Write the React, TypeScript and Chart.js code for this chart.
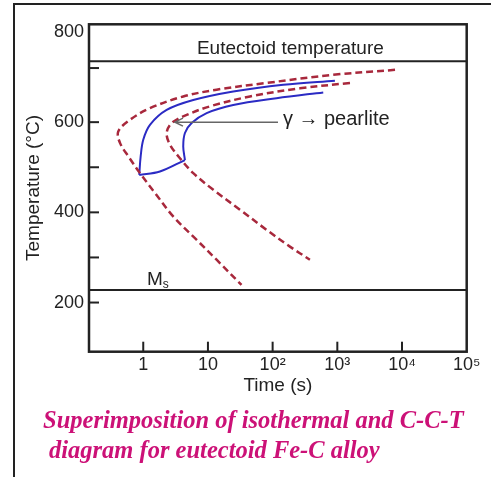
import React, { useEffect, useRef } from "react";
import { Chart, registerables } from "chart.js";

Chart.register(...registerables);

// ---- axis ticks ----
const timeTickValues = [1, 10, 100, 1000, 10000, 100000];
const timeTickLabels = ["1", "10", "10²", "10³", "10⁴", "10⁵"];
const tempTickValues = [200, 400, 600, 800];
const tempInnerTicks = [200, 300, 400, 500, 600, 720];
const timeInnerTicks = [1, 10, 100, 1000, 10000];

// ---- reference lines ----
const eutectoidTemp = 735;
const msTemp = 228;

// ---- isothermal (TTT) curves, red dashed ----
const tttStartTime = [7800, 865, 81, 13.6, 4.15, 1.27, 0.62, 0.41, 0.44, 0.59, 0.89, 1.52, 2.9, 6.7, 13.6, 33];
const tttStartTemp = [716, 705, 687, 672, 657, 631, 605, 579, 553, 524, 487, 443, 391, 339, 295, 239];
const tttFinishTime = [1570, 264, 44.6, 10.7, 4.69, 2.75, 2.3, 2.59, 3.69, 5.93, 12.1, 31.2, 81, 185, 377];
const tttFinishTemp = [687, 675, 657, 635, 616, 598, 576, 550, 520, 487, 450, 406, 361, 324, 295];

// ---- continuous cooling (CCT) curves, blue ----
const cctStartTime = [918, 146, 24.6, 5.93, 2.3, 1.27, 1.0, 0.912, 0.867];
const cctStartTemp = [692, 683, 668, 649, 627, 594, 561, 524, 483];
const cctStopTime = [0.867, 1.81, 4.41];
const cctStopTemp = [483, 490.5, 516];
const cctFinishTime = [4.41, 4.15, 4.41, 5.6, 9.55, 24.6, 115, 606];
const cctFinishTemp = [516, 546, 576, 598, 620, 638, 653, 666];

// ---- annotations ----
const eutectoidLabel = "Eutectoid temperature";
const eutectoidLabelAt = { time: 188, temp: 751 };
const msLabelAt = { time: 1.14, temp: 239 };
const arrowLabel = "γ → pearlite";
const arrowLabelAt = { time: 144, temp: 593 };
const arrowFrom = { time: 121, temp: 600 };
const arrowTo = { time: 3.09, temp: 600 };
const captionLines = [
  "Superimposition of isothermal and C-C-T",
  "diagram for eutectoid Fe-C alloy",
];

const RED = "#a8283c";
const BLUE = "#2b2bc4";
const INK = "#222222";
const CAPTION = "#cc1177";
const SANS = '"Liberation Sans", Arial, Helvetica, sans-serif';
const SERIF = '"Liberation Serif", "Times New Roman", serif';

const toPoints = (xs: number[], ys: number[]) => xs.map((x, i) => ({ x, y: ys[i] }));

const decorPlugin = {
  id: "decor",
  beforeDraw(chart: any) {
    const { ctx, width, height } = chart;
    ctx.save();
    ctx.fillStyle = "#ffffff";
    ctx.fillRect(0, 0, width, height);
    ctx.strokeStyle = INK;
    ctx.lineWidth = 2;
    ctx.beginPath();
    ctx.moveTo(14, height);
    ctx.lineTo(14, 4);
    ctx.lineTo(width, 4);
    ctx.stroke();
    ctx.restore();
  },
  beforeDatasetsDraw(chart: any) {
    const { ctx, chartArea, scales } = chart;
    const y = scales.y;
    ctx.save();
    ctx.strokeStyle = INK;
    ctx.lineWidth = 2;
    [eutectoidTemp, msTemp].forEach((t) => {
      const py = y.getPixelForValue(t);
      ctx.beginPath();
      ctx.moveTo(chartArea.left, py);
      ctx.lineTo(chartArea.right, py);
      ctx.stroke();
    });
    ctx.restore();
  },
  afterDraw(chart: any) {
    const { ctx, chartArea, scales } = chart;
    const x = scales.x;
    const y = scales.y;
    const { left, top, right, bottom } = chartArea;
    ctx.save();
    // plot frame
    ctx.strokeStyle = INK;
    ctx.lineWidth = 2.5;
    ctx.strokeRect(left, top, right - left, bottom - top);
    // inner ticks
    ctx.lineWidth = 2;
    tempInnerTicks.forEach((t) => {
      const py = y.getPixelForValue(t);
      ctx.beginPath();
      ctx.moveTo(left, py);
      ctx.lineTo(left + 10, py);
      ctx.stroke();
    });
    timeInnerTicks.forEach((t) => {
      const px = x.getPixelForValue(t);
      ctx.beginPath();
      ctx.moveTo(px, bottom);
      ctx.lineTo(px, bottom - 10);
      ctx.stroke();
    });
    // eutectoid label
    ctx.fillStyle = INK;
    ctx.font = `19px ${SANS}`;
    ctx.textAlign = "center";
    ctx.textBaseline = "alphabetic";
    ctx.fillText(eutectoidLabel, x.getPixelForValue(eutectoidLabelAt.time), y.getPixelForValue(eutectoidLabelAt.temp));
    // Ms label
    ctx.textAlign = "left";
    const mx = x.getPixelForValue(msLabelAt.time);
    const my = y.getPixelForValue(msLabelAt.temp);
    ctx.font = `19px ${SANS}`;
    ctx.fillText("M", mx, my);
    const mw = ctx.measureText("M").width;
    ctx.font = `12px ${SANS}`;
    ctx.fillText("s", mx + mw, my + 3);
    // arrow
    const ax1 = x.getPixelForValue(arrowFrom.time);
    const ay1 = y.getPixelForValue(arrowFrom.temp);
    const ax2 = x.getPixelForValue(arrowTo.time);
    const ay2 = y.getPixelForValue(arrowTo.temp);
    ctx.strokeStyle = "#666666";
    ctx.lineWidth = 1.5;
    ctx.beginPath();
    ctx.moveTo(ax1, ay1);
    ctx.lineTo(ax2, ay2);
    ctx.moveTo(ax2 + 8, ay2 - 4);
    ctx.lineTo(ax2, ay2);
    ctx.lineTo(ax2 + 8, ay2 + 4);
    ctx.stroke();
    ctx.fillStyle = INK;
    ctx.font = `20px ${SANS}`;
    ctx.fillText(arrowLabel, x.getPixelForValue(arrowLabelAt.time), y.getPixelForValue(arrowLabelAt.temp));
    // caption
    ctx.fillStyle = CAPTION;
    ctx.font = `bold italic 24.5px ${SERIF}`;
    ctx.fillText(captionLines[0], 43, 428);
    ctx.fillText(captionLines[1], 49, 458);
    ctx.restore();
  },
};

export default function App() {
  const canvasRef = useRef<HTMLCanvasElement | null>(null);

  useEffect(() => {
    if (!canvasRef.current) return;
    const line = (xs: number[], ys: number[], color: string, dashed: boolean) => ({
      data: toPoints(xs, ys),
      showLine: true,
      borderColor: color,
      backgroundColor: color,
      borderWidth: dashed ? 2.5 : 2,
      borderDash: dashed ? [7, 4] : [],
      pointRadius: 0,
      tension: 0.35,
      fill: false,
    });
    const chart = new Chart(canvasRef.current, {
      type: "scatter",
      data: {
        datasets: [
          line(tttStartTime, tttStartTemp, RED, true),
          line(tttFinishTime, tttFinishTemp, RED, true),
          line(cctStartTime, cctStartTemp, BLUE, false),
          line(cctStopTime, cctStopTemp, BLUE, false),
          line(cctFinishTime, cctFinishTemp, BLUE, false),
        ],
      },
      options: {
        animation: false,
        responsive: true,
        maintainAspectRatio: false,
        layout: { padding: { left: 0, top: 24.3, right: 24.3, bottom: 80.3 } },
        plugins: {
          legend: { display: false },
          tooltip: { enabled: false },
        },
        scales: {
          x: {
            type: "logarithmic",
            min: 0.145,
            max: 100000,
            bounds: "data",
            grid: { display: false, drawTicks: false },
            border: { display: false },
            ticks: {
              autoSkip: false,
              maxRotation: 0,
              padding: 2.5,
              color: INK,
              font: { size: 18, family: SANS },
              callback: (_v: any, i: number) => timeTickLabels[i],
            },
            title: {
              display: true,
              text: "Time (s)",
              color: INK,
              font: { size: 19, family: SANS },
              padding: { top: 0, bottom: 0 },
            },
            afterBuildTicks: (s: any) => {
              s.ticks = timeTickValues.map((v) => ({ value: v }));
            },
            afterFit: (s: any) => {
              s.height = 45;
            },
          },
          y: {
            type: "linear",
            min: 91,
            max: 817,
            bounds: "data",
            grid: { display: false, drawTicks: false },
            border: { display: false },
            ticks: {
              padding: 5,
              color: INK,
              font: { size: 18, family: SANS },
              callback: (v: any) => String(v),
            },
            title: {
              display: true,
              text: "Temperature (°C)",
              color: INK,
              font: { size: 19, family: SANS },
              padding: { top: 22.6, bottom: 0 },
            },
            afterBuildTicks: (s: any) => {
              s.ticks = tempTickValues.map((v) => ({ value: v }));
            },
            afterFit: (s: any) => {
              s.width = 89;
            },
          },
        },
      },
      plugins: [decorPlugin],
    } as any);
    return () => chart.destroy();
  }, []);

  return (
    <div style={{ position: "absolute", left: 0, top: 0, width: 491, height: 477, background: "#fff" }}>
      <canvas ref={canvasRef} />
    </div>
  );
}
